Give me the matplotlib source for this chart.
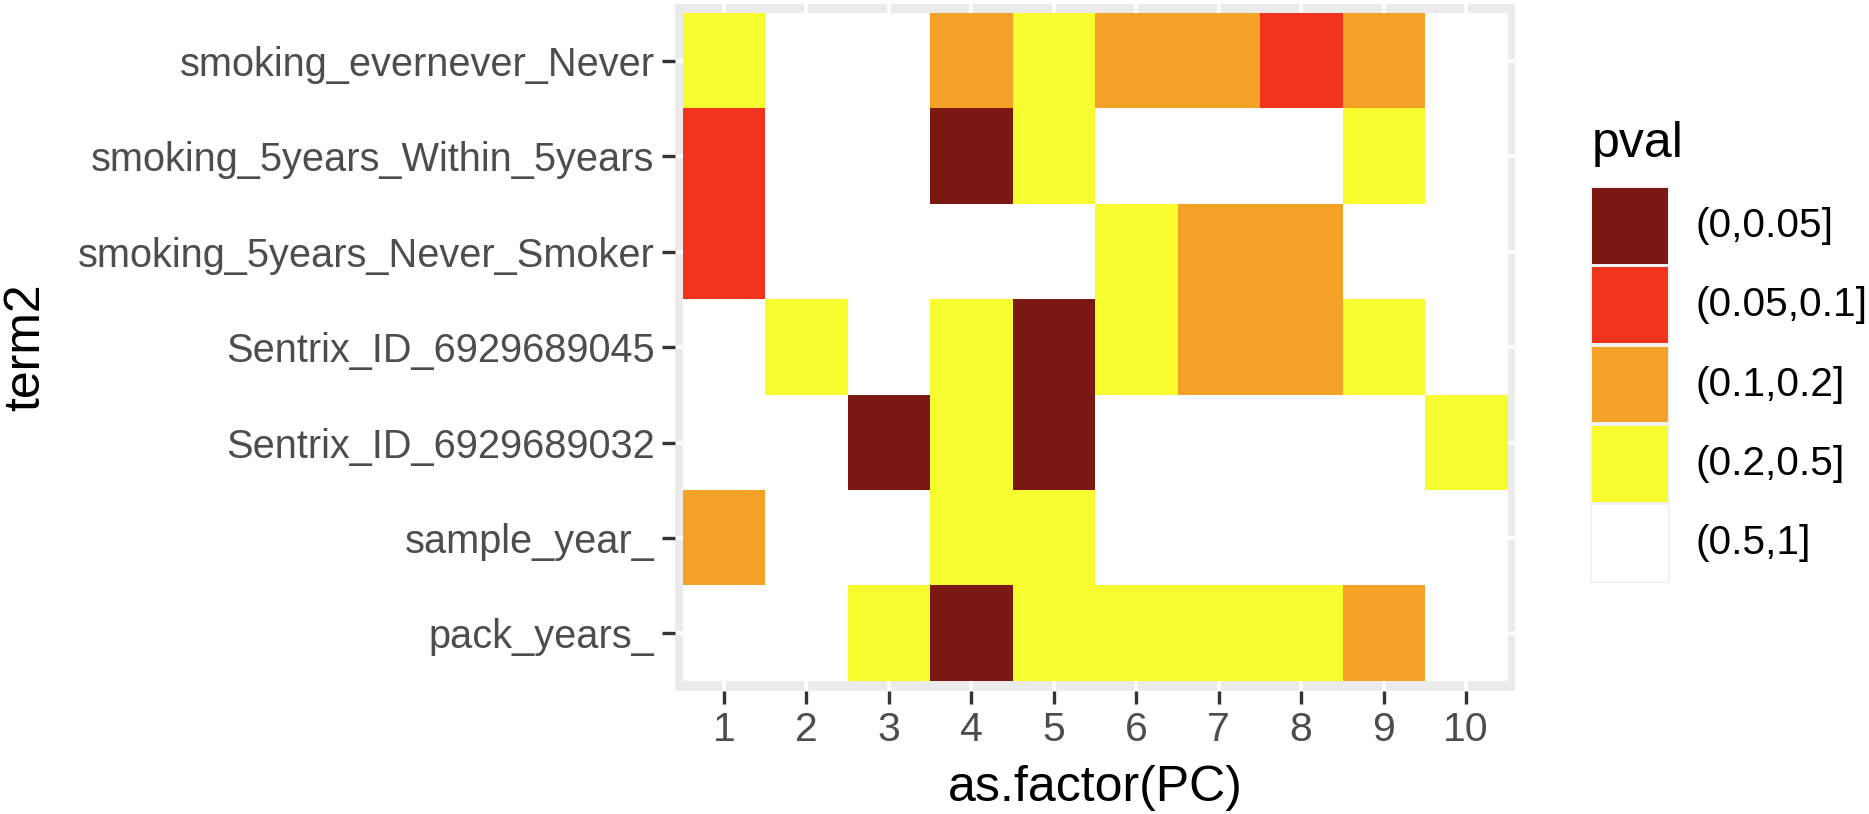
import matplotlib
matplotlib.use('Agg')
import numpy as np
from matplotlib import pyplot as plt
from matplotlib import transforms
from matplotlib.colors import ListedColormap

plt.rcParams['font.family'] = ['Liberation Sans', 'DejaVu Sans']

# rows of the heatmap, top to bottom
terms = ['smoking_evernever_Never', 'smoking_5years_Within_5years',
         'smoking_5years_Never_Smoker', 'Sentrix_ID_6929689045',
         'Sentrix_ID_6929689032', 'sample_year_', 'pack_years_']
pcs = [1, 2, 3, 4, 5, 6, 7, 8, 9, 10]

pval_bins = ['(0,0.05]', '(0.05,0.1]', '(0.1,0.2]', '(0.2,0.5]', '(0.5,1]']
bin_colors = ['#7A1811', '#F1341E', '#F4A128', '#F7FC2F', '#FFFFFF']

# pval bin index (into pval_bins) for PC 1..10
smoking_evernever_never = [3, 4, 4, 2, 3, 2, 2, 1, 2, 4]
smoking_5years_within = [1, 4, 4, 0, 3, 4, 4, 4, 3, 4]
smoking_5years_never = [1, 4, 4, 4, 4, 3, 2, 2, 4, 4]
sentrix_045 = [4, 3, 4, 3, 0, 3, 2, 2, 3, 4]
sentrix_032 = [4, 4, 0, 3, 0, 4, 4, 4, 4, 3]
sample_year = [2, 4, 4, 3, 3, 4, 4, 4, 4, 4]
pack_years = [4, 4, 3, 0, 3, 3, 3, 3, 2, 4]


def main():
    W, H = 1869, 814
    fig = plt.figure(figsize=(W / 100, H / 100), dpi=100)
    ax = fig.add_axes([674.6 / W, 1 - 690.6 / H, 840.8 / W, 686.8 / H])
    ax.set_facecolor('#EBEBEB')
    for s in ax.spines.values():
        s.set_visible(False)

    codes = np.array([smoking_evernever_never, smoking_5years_within,
                      smoking_5years_never, sentrix_045, sentrix_032,
                      sample_year, pack_years])
    cmap = ListedColormap(bin_colors)
    ax.imshow(codes, cmap=cmap, vmin=-0.5, vmax=len(pval_bins) - 0.5,
              extent=(0.5, len(pcs) + 0.5, len(terms) + 0.5, 0.5),
              aspect='auto', interpolation='nearest', zorder=2)
    ax.set_xlim(0.4, len(pcs) + 0.6)
    ax.set_ylim(len(terms) + 0.6, 0.4)

    ax.set_xticks(pcs)
    ax.set_xticklabels([str(p) for p in pcs])
    ax.set_yticks(range(1, len(terms) + 1))
    ax.set_yticklabels(terms)
    ax.grid(True, color='white', linewidth=2.6)
    ax.set_axisbelow(True)
    ax.tick_params(axis='both', length=9.5, width=2.4, color='#333333',
                   labelcolor='#4D4D4D', pad=5)
    ax.tick_params(axis='x', labelsize=29.5)
    ax.tick_params(axis='y', labelsize=28.6)

    ax.set_xlabel('as.factor(PC)', fontsize=36, va='top')
    ax.xaxis.set_label_coords(0.5, 1 - 765 / H,
                              transform=transforms.blended_transform_factory(ax.transAxes, fig.transFigure))
    ax.set_ylabel('term2', fontsize=36, va='center')
    ax.yaxis.set_label_coords(26.5 / W, 0.5,
                              transform=transforms.blended_transform_factory(fig.transFigure, ax.transAxes))

    # legend drawn as its own little axes
    top, pitch = 186, 79.4
    lg = fig.add_axes([1590 / W, 1 - (top + pitch * 5) / H, 80 / W, pitch * 5 / H])
    lg.set_facecolor('#F2F2F2')
    for s in lg.spines.values():
        s.set_visible(False)
    lg.set_xticks([])
    lg.set_yticks([])
    lg.set_xlim(0, 1)
    lg.set_ylim(len(pval_bins) - 0.5, -0.5)
    yy = np.arange(len(pval_bins))
    lg.barh(yy, 0.95, left=0.025, height=0.955, color=bin_colors)
    for y, lab in zip(yy, pval_bins):
        lg.text(105 / 80, y, lab, fontsize=29.2, va='center', ha='left', color='black')
    lg.text(0.025, -0.5 - 29 / pitch, 'pval', fontsize=36, va='baseline', ha='left')

    fig.savefig('out.png', dpi=100)


if __name__ == '__main__':
    main()
